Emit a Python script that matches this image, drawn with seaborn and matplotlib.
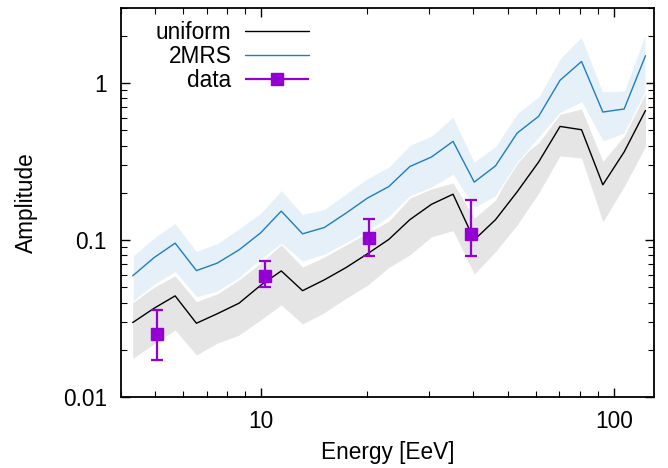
import numpy as np
import matplotlib
matplotlib.use("Agg")
import matplotlib.pyplot as plt
import seaborn as sns
from matplotlib.ticker import FixedLocator, LogLocator, NullFormatter, FuncFormatter
from matplotlib.container import ErrorbarContainer
from matplotlib.legend_handler import HandlerErrorbar

# energy bins [EeV]
energy = [4.32, 4.97, 5.7, 6.55, 7.5, 8.65, 9.95, 11.4, 13.1, 15.1, 17.4, 20.0, 23.0,
          26.4, 30.4, 35.0, 40.2, 46.2, 53.2, 61.2, 70.4, 81.0, 93.1, 107.0, 123.0]

# isotropic (uniform) expectation and its band
uniform = [0.0299, 0.0369, 0.0442, 0.0296, 0.034, 0.0397, 0.0515, 0.0637, 0.0477, 0.0559,
           0.0669, 0.0818, 0.101, 0.135, 0.169, 0.196, 0.1004, 0.135, 0.203, 0.314,
           0.529, 0.504, 0.225, 0.364, 0.668]
uniform_hi = [0.040, 0.0502, 0.0593, 0.0406, 0.0455, 0.0559, 0.0714, 0.0935, 0.0673, 0.078,
              0.0933, 0.111, 0.132, 0.185, 0.212, 0.231, 0.138, 0.18, 0.33, 0.415,
              0.632, 0.683, 0.317, 0.46, 0.86]
uniform_lo = [0.0177, 0.0219, 0.0268, 0.0186, 0.0221, 0.0249, 0.031, 0.0387, 0.0293, 0.0346,
              0.0427, 0.0516, 0.067, 0.0806, 0.105, 0.115, 0.061, 0.0846, 0.125, 0.199,
              0.344, 0.333, 0.131, 0.219, 0.395]

# 2MRS model and its band
mrs = [0.0593, 0.0775, 0.0957, 0.064, 0.0714, 0.0867, 0.111, 0.153, 0.1097, 0.1203,
       0.1486, 0.185, 0.219, 0.294, 0.338, 0.425, 0.234, 0.297, 0.48, 0.613,
       1.04, 1.37, 0.653, 0.683, 1.49]
mrs_hi = [0.0794, 0.1045, 0.129, 0.0855, 0.0957, 0.119, 0.149, 0.209, 0.147, 0.158,
          0.199, 0.248, 0.294, 0.405, 0.462, 0.613, 0.317, 0.398, 0.644, 0.822,
          1.44, 1.98, 0.885, 0.897, 2.08]
mrs_lo = [0.0405, 0.052, 0.0625, 0.0433, 0.047, 0.0573, 0.075, 0.0947, 0.073, 0.0806,
          0.0957, 0.1135, 0.14, 0.19, 0.216, 0.26, 0.16, 0.19, 0.31, 0.446,
          0.644, 0.753, 0.425, 0.475, 0.885]

# measured amplitudes
data_e = [5.05, 10.25, 20.2, 39.4]
data_amp = [0.0252, 0.0593, 0.103, 0.109]
data_lo = [0.0173, 0.0506, 0.0794, 0.0794]
data_hi = [0.036, 0.0742, 0.136, 0.18]

FS = 16.3

sns.set_style("ticks")
plt.rcParams['font.family'] = ['Liberation Sans', 'DejaVu Sans']
plt.rcParams['font.size'] = FS
for key in ['text.color', 'axes.labelcolor', 'xtick.color', 'ytick.color', 'axes.edgecolor']:
    plt.rcParams[key] = 'black'

fig, ax = plt.subplots(figsize=(6.68, 4.68), dpi=100)
fig.subplots_adjust(left=0.181, right=0.979, bottom=0.151, top=0.983)

purple = '#9400d3'
blue = '#1f7ec0'

ax.fill_between(energy, uniform_lo, uniform_hi, color='#e5e5e5', lw=0, zorder=1)
ax.fill_between(energy, mrs_lo, mrs_hi, facecolor='#e5f0f8', edgecolor='white', lw=0.8, zorder=1.5)

sns.lineplot(x=energy, y=uniform, color='black', lw=1.0, ax=ax, zorder=2)
h_uni = ax.lines[-1]
sns.lineplot(x=energy, y=mrs, color=blue, lw=1.0, ax=ax, zorder=2)
h_mrs = ax.lines[-1]

amp = np.array(data_amp)
yerr = [amp - np.array(data_lo), np.array(data_hi) - amp]
ax.errorbar(data_e, data_amp, yerr=yerr, fmt='s', color=purple, ms=8,
            elinewidth=1.6, capsize=4, capthick=1.6, zorder=3)

# legend proxy with a horizontal bar, gnuplot style
h_dat = ax.errorbar([], [], xerr=[], fmt='s', color=purple, ms=8,
                    elinewidth=1.6, capsize=4, capthick=1.6)

ax.set_xscale('log')
ax.set_yscale('log')
ax.set_xlim(4, 130)
ax.set_ylim(0.01, 3)

fmt = FuncFormatter(lambda v, p: f'{v:g}')
ax.xaxis.set_major_locator(FixedLocator([10, 100]))
ax.xaxis.set_major_formatter(fmt)
ax.xaxis.set_minor_locator(LogLocator(base=10, subs=np.arange(2, 10)))
ax.xaxis.set_minor_formatter(NullFormatter())
ax.yaxis.set_major_locator(FixedLocator([0.01, 0.1, 1]))
ax.yaxis.set_major_formatter(fmt)
ax.yaxis.set_minor_locator(LogLocator(base=10, subs=np.arange(2, 10)))
ax.yaxis.set_minor_formatter(NullFormatter())

ax.tick_params(which='both', direction='in', top=True, right=True, color='black')
ax.tick_params(which='major', length=6.5, width=1.0, labelsize=FS)
ax.tick_params(which='minor', length=4, width=0.8)
ax.tick_params(axis='x', which='major', pad=9)
ax.tick_params(axis='y', which='major', pad=10)
for s in ax.spines.values():
    s.set_linewidth(1.3)
    s.set_color('black')

ax.set_xlabel('Energy [EeV]', fontsize=FS)
ax.set_ylabel('Amplitude', fontsize=FS)
ax.xaxis.set_label_coords(0.5, -0.113)
ax.yaxis.set_label_coords(-0.155, 0.5)

ax.legend([h_uni, h_mrs, h_dat], ['uniform', '2MRS', 'data'],
          loc='upper left', bbox_to_anchor=(0.044, 0.995), frameon=False,
          markerfirst=False, borderpad=0, handlelength=2.85, handletextpad=0.6,
          labelspacing=0.04, fontsize=FS, numpoints=1,
          handler_map={ErrorbarContainer: HandlerErrorbar(xerr_size=1.42)})

fig.savefig('out.png', dpi=100)
